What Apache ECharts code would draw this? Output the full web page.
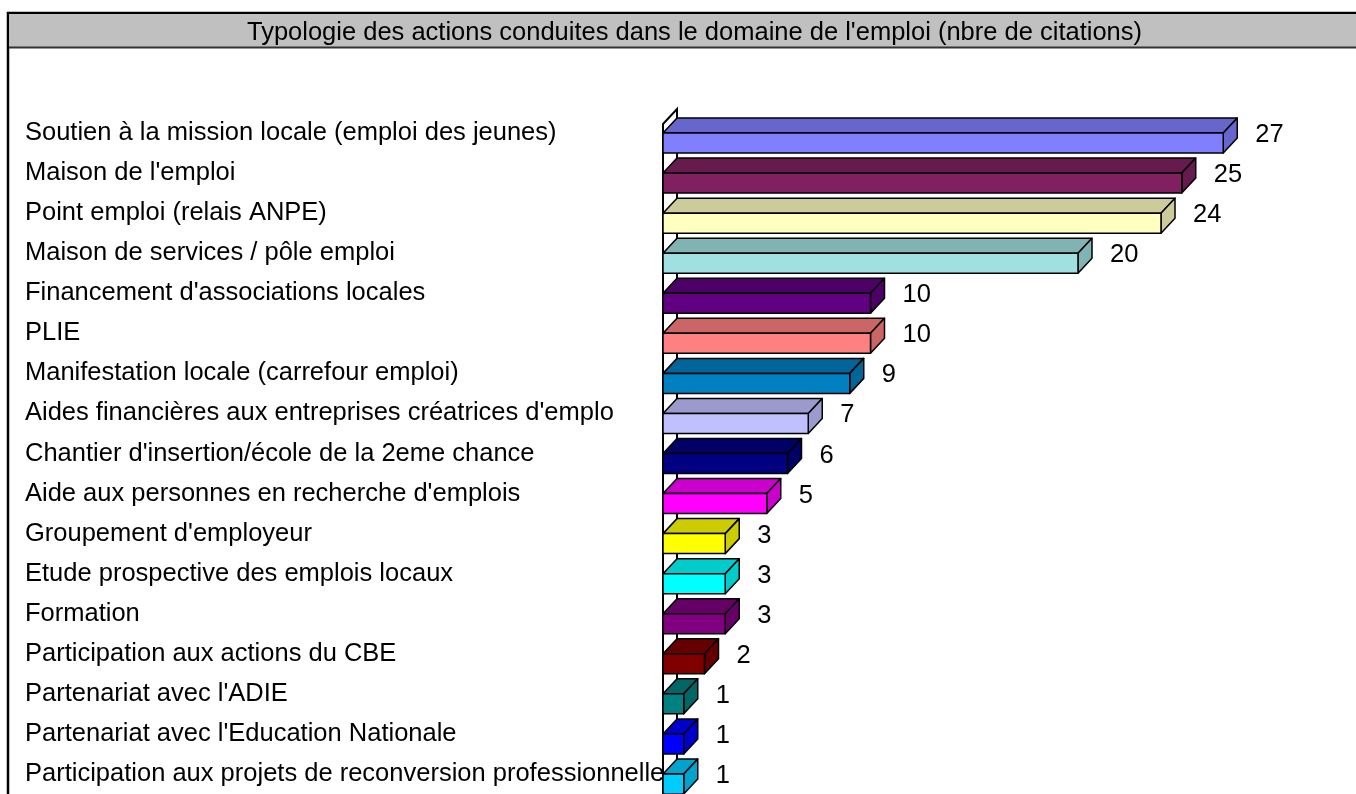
<!DOCTYPE html>
<html>
<head>
<meta charset="utf-8">
<script src="https://cdn.jsdelivr.net/npm/echarts@6/dist/echarts.min.js"></script>
<style>
  html, body { margin: 0; padding: 0; background: #fff; }
  #chart { width: 1356px; height: 794px; }
</style>
</head>
<body>
<div id="chart"></div>
<script>
// catégories (de haut en bas)
const categories = [
  "Soutien à la mission locale (emploi des jeunes)",
  "Maison de l'emploi",
  "Point emploi (relais ANPE)",
  "Maison de services / pôle emploi",
  "Financement d'associations locales",
  "PLIE",
  "Manifestation locale (carrefour emploi)",
  "Aides financières aux entreprises créatrices d'emplo",
  "Chantier d'insertion/école de la 2eme chance",
  "Aide aux personnes en recherche d'emplois",
  "Groupement d'employeur",
  "Etude prospective des emplois locaux",
  "Formation",
  "Participation aux actions du CBE",
  "Partenariat avec l'ADIE",
  "Partenariat avec l'Education Nationale",
  "Participation aux projets de reconversion professionnelle"
]
const citations = [27, 25, 24, 20, 10, 10, 9, 7, 6, 5, 3, 3, 3, 2, 1, 1, 1]
const barColors = [
  '#8080ff', '#802060', '#ffffc0', '#a0e0e0', '#600080', '#ff8080',
  '#0080c0', '#c0c0ff', '#000080', '#ff00ff', '#ffff00', '#00ffff',
  '#800080', '#800000', '#008080', '#0000ff', '#00ccff'
]
const chartTitle = "Typologie des actions conduites dans le domaine de l'emploi (nbre de citations)"

const FAMILY = '"Liberation Sans", Arial, sans-serif'
const FSIZE = 25.5
const FONT = FSIZE + 'px ' + FAMILY
const BAR_H = 20       // hauteur face avant
const DX = 14, DY = 15 // profondeur 3D

function shade(hex, k) {
  const n = parseInt(hex.slice(1), 16)
  const r = Math.round(((n >> 16) & 255) * k)
  const g = Math.round(((n >> 8) & 255) * k)
  const b = Math.round((n & 255) * k)
  return 'rgb(' + r + ',' + g + ',' + b + ')'
}

function renderBar(params, api) {
  const v = api.value(0)
  const i = api.value(1)
  const p0 = api.coord([0, i])
  const p1 = api.coord([v, i])
  const x0 = p0[0], x1 = p1[0], y = p0[1]
  const col = barColors[params.dataIndex]
  const dark = shade(col, 0.8)
  const edge = { stroke: '#000', lineWidth: 1.5, lineJoin: 'round' }
  return {
    type: 'group',
    children: [
      { type: 'polygon', shape: { points: [[x0, y], [x0 + DX, y - DY], [x1 + DX, y - DY], [x1, y]] },
        style: Object.assign({ fill: dark }, edge) },
      { type: 'polygon', shape: { points: [[x1, y], [x1 + DX, y - DY], [x1 + DX, y + BAR_H - DY], [x1, y + BAR_H]] },
        style: Object.assign({ fill: dark }, edge) },
      { type: 'rect', shape: { x: x0, y: y, width: x1 - x0, height: BAR_H },
        style: Object.assign({ fill: col }, edge) },
      { type: 'text', x: x1 + DX + 18, y: y + 2,
        style: { text: String(v), fill: '#000', font: FONT, align: 'left', verticalAlign: 'middle' } }
    ]
  }
}

// paroi (mur) du graphique 3D
function renderWall(params, api) {
  const p = api.coord([0, 0])
  const x0 = p[0], yTop = p[1] - 9
  return {
    type: 'polygon',
    shape: { points: [[x0, yTop], [x0 + DX, yTop - DY], [x0 + DX, 1000], [x0, 1000]] },
    style: { fill: '#fff', stroke: '#000', lineWidth: 2 }
  }
}

const chart = echarts.init(document.getElementById('chart'), null, { renderer: 'canvas' })
chart.setOption({
  backgroundColor: '#fff',
  animation: false,
  title: {
    text: chartTitle,
    left: 689.5, top: 15, textAlign: 'center',
    textStyle: { fontSize: FSIZE, fontWeight: 'normal', color: '#000', fontFamily: FAMILY }
  },
  graphic: [
    { type: 'rect', z: -10, shape: { x: 8, y: 13, width: 1400, height: 900 },
      style: { fill: '#fff', stroke: '#000', lineWidth: 2.5 } },
    { type: 'rect', z: -9, shape: { x: 9, y: 14, width: 1400, height: 33 },
      style: { fill: '#c0c0c0' } },
    { type: 'line', z: -8, shape: { x1: 9, y1: 47.5, x2: 1400, y2: 47.5 },
      style: { stroke: '#333', lineWidth: 2 } }
  ],
  grid: { left: 663, top: 113, width: 622.5, height: 684 },
  xAxis: {
    type: 'value', min: 0, max: 30,
    show: false
  },
  yAxis: {
    type: 'category',
    data: categories,
    inverse: true,
    axisLine: { show: false },
    axisTick: { show: false },
    axisLabel: { align: 'left', margin: 638, padding: [4, 0, 0, 0], fontSize: FSIZE, color: '#000', fontFamily: FAMILY }
  },
  series: [
    {
      type: 'custom', z: 1,
      renderItem: renderWall,
      encode: { x: 0, y: 1 },
      data: [[0, 0]],
      silent: true
    },
    {
      type: 'custom', z: 2,
      renderItem: renderBar,
      encode: { x: 0, y: 1 },
      data: citations.map((v, i) => [v, i])
    }
  ]
})
</script>
</body>
</html>
